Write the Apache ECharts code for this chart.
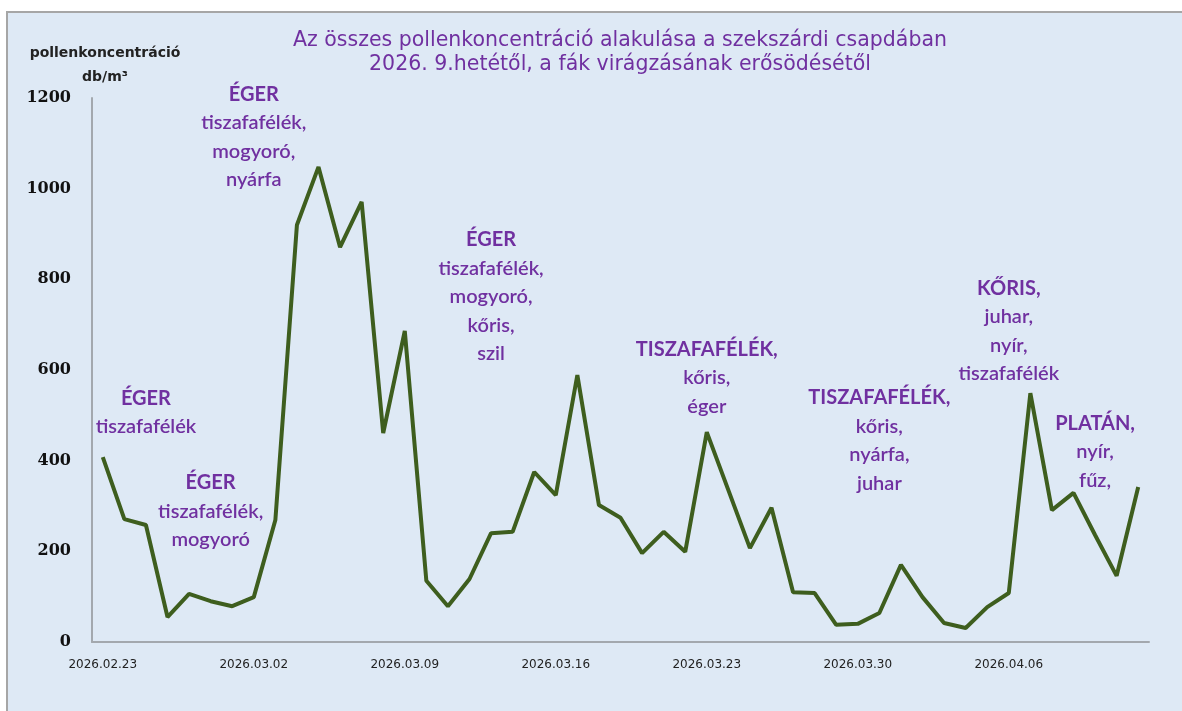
<!DOCTYPE html>
<html>
<head>
<meta charset="utf-8">
<title>Pollenkoncentráció Szekszárd</title>
<script src="https://cdn.jsdelivr.net/npm/echarts@6/dist/echarts.min.js"></script>
<style>
  html, body { margin: 0; padding: 0; background: #fff; }
  #chart { width: 1182px; height: 711px; }
</style>
</head>
<body>
<div id="chart"></div>
<script>
// napok (x tengely)
var dates = [
  "2026.02.23", "2026.02.24", "2026.02.25", "2026.02.26", "2026.02.27", "2026.02.28",
  "2026.03.01", "2026.03.02", "2026.03.03", "2026.03.04", "2026.03.05", "2026.03.06",
  "2026.03.07", "2026.03.08", "2026.03.09", "2026.03.10", "2026.03.11", "2026.03.12",
  "2026.03.13", "2026.03.14", "2026.03.15", "2026.03.16", "2026.03.17", "2026.03.18",
  "2026.03.19", "2026.03.20", "2026.03.21", "2026.03.22", "2026.03.23", "2026.03.24",
  "2026.03.25", "2026.03.26", "2026.03.27", "2026.03.28", "2026.03.29", "2026.03.30",
  "2026.03.31", "2026.04.01", "2026.04.02", "2026.04.03", "2026.04.04", "2026.04.05",
  "2026.04.06", "2026.04.07", "2026.04.08", "2026.04.09", "2026.04.10", "2026.04.11",
  "2026.04.12"
];

// összes pollen, db/m3
var pollen = [
  408, 271, 258, 55, 106, 90, 79, 99, 269, 920, 1048, 871,
  971, 461, 686, 135, 79, 139, 240, 243, 375, 324, 589, 302,
  274, 196, 243, 199, 463, 335, 207, 296, 110, 108, 38, 40,
  64, 170, 99, 42, 31, 77, 108, 549, 291, 329, 236, 146,
  342
];

var yTicks = [0, 200, 400, 600, 800, 1000, 1200];

// feliratok: [x index, y érték, első sor, többi sor]
var notes = [
  [2, 506, "ÉGER", ["tiszafafélék"]],
  [4.76, 288, "ÉGER", ["tiszafafélék,", "mogyoró"]],
  [6.84, 1114, "ÉGER", ["tiszafafélék,", "mogyoró,", "nyárfa"]],
  [18.08, 762, "ÉGER", ["tiszafafélék,", "mogyoró,", "kőris,", "szil"]],
  [28.25, 583, "TISZAFAFÉLÉK,", ["kőris,", "éger"]],
  [35.5, 444, "TISZAFAFÉLÉK,", ["kőris,", "nyárfa,", "juhar"]],
  [42.07, 686, "KŐRIS,", ["juhar,", "nyír,", "tiszafafélék"]],
  [46.0, 420, "PLATÁN,", ["nyír,", "fűz,"]]
];

var purple = "#7030a0";

var chart = echarts.init(document.getElementById("chart"));

var noteData = notes.map(function (n) {
  var txt = "{h|" + n[2] + "}";
  n[3].forEach(function (s) {
    txt += "\n{t|" + s + "}";
  });
  return {
    coord: [n[0], n[1]],
    value: n[1],
    label: { formatter: txt }
  };
});

var option = {
  backgroundColor: "#fff",
  animation: false,
  title: {
    text: "Az összes pollenkoncentráció alakulása a szekszárdi csapdában\n2026. 9.hetétől, a fák virágzásának erősödésétől",
    left: 615,
    top: 24,
    textAlign: "center",
    textStyle: {
      color: purple,
      fontFamily: "DejaVu Sans",
      fontSize: 20.5,
      fontWeight: "normal",
      lineHeight: 24
    }
  },
  graphic: [
    {
      type: "rect",
      z: -10,
      silent: true,
      shape: { x: 7, y: 12, width: 1200, height: 720 },
      style: { fill: "#dee9f5", stroke: "#a6a6a6", lineWidth: 2 }
    },
    {
      type: "text",
      z: 10,
      style: {
        x: 105,
        y: 41,
        text: "pollenkoncentráció\ndb/m³",
        textAlign: "center",
        fill: "#222",
        font: "bold 14px 'DejaVu Sans'",
        lineHeight: 24
      }
    }
  ],
  grid: {
    left: 92,
    top: 98,
    right: 33,
    bottom: 69
  },
  xAxis: {
    type: "category",
    data: dates,
    boundaryGap: true,
    axisLine: { lineStyle: { color: "#a3a8ae", width: 2 } },
    axisTick: { show: false },
    axisLabel: {
      interval: 6,
      margin: 17,
      color: "#222",
      fontFamily: "DejaVu Sans",
      fontSize: 12
    }
  },
  yAxis: {
    type: "value",
    min: yTicks[0],
    max: yTicks[yTicks.length - 1],
    interval: 200,
    axisLine: { show: true, lineStyle: { color: "#a3a8ae", width: 2 } },
    axisTick: { show: false },
    splitLine: { show: false },
    axisLabel: {
      margin: 21,
      color: "#111",
      fontFamily: "DejaVu Serif",
      fontWeight: "bold",
      fontSize: 16,
      formatter: function (v) { return String(v); }
    }
  },
  series: [
    {
      name: "összes pollen",
      type: "line",
      data: pollen,
      symbol: "none",
      lineStyle: { color: "#3e5e1e", width: 4 },
      markPoint: {
        symbol: "circle",
        symbolSize: 0,
        silent: true,
        label: {
          show: true,
          position: "inside",
          color: purple,
          align: "center",
          rich: {
            h: {
              color: purple,
              fontFamily: "Lato",
              fontWeight: "bold",
              fontSize: 20,
              lineHeight: 28.5,
              align: "center"
            },
            t: {
              color: purple,
              fontFamily: "Lato",
              fontWeight: 600,
              fontSize: 20,
              lineHeight: 28.5,
              align: "center"
            }
          }
        },
        data: noteData
      }
    }
  ]
};

chart.setOption(option);
</script>
</body>
</html>
